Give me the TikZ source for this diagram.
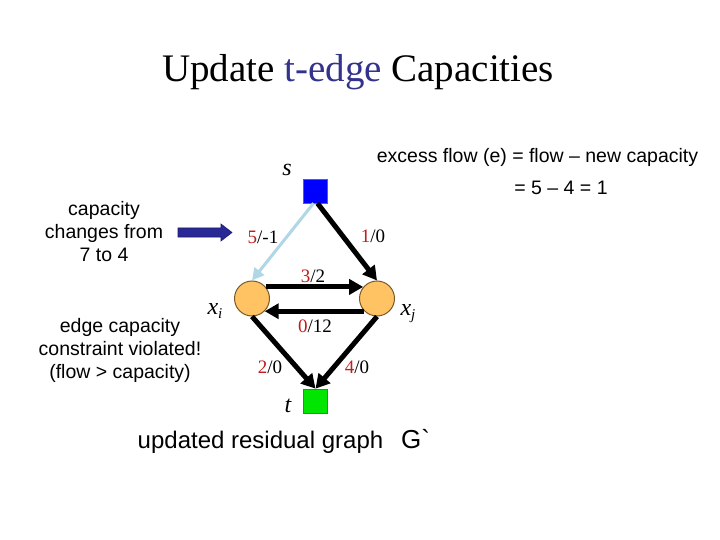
\documentclass[tikz,border=0pt]{standalone}
\usepackage{fontspec}
\setmainfont{Liberation Serif}
\newfontfamily\arialf[Ligatures=TeX]{Liberation Sans}
\newfontfamily\arialplain{Liberation Sans}
\usetikzlibrary{arrows.meta}
\definecolor{tedge}{RGB}{51,51,140}
\definecolor{numred}{RGB}{190,30,30}
\definecolor{nodeorange}{RGB}{255,195,100}
\definecolor{nodeedge}{RGB}{120,90,40}
\definecolor{navyarrow}{RGB}{40,40,150}
\definecolor{lblue}{RGB}{175,215,230}
\definecolor{sblue}{RGB}{0,0,255}
\definecolor{tgreen}{RGB}{0,230,0}
\newcommand{\rn}[2]{\textcolor{numred}{#1}/#2}
\newcommand{\vsub}[2]{#1\raisebox{-0.35ex}{\fontsize{15}{17}\selectfont #2}}
\begin{document}
\begin{tikzpicture}[x=1pt,y=-1pt,
  sq/.style={draw=black!60, line width=0.6pt, minimum size=24pt, inner sep=0pt},
  vert/.style={circle, draw=nodeedge, line width=1pt, fill=nodeorange, minimum size=35pt, inner sep=0pt},
  bk/.style={line width=5pt, -{Triangle[length=14pt,width=15pt]}},
  lb/.style={line width=3pt, lblue, -{Triangle[length=12pt,width=12pt]}},
  elab/.style={font=\fontsize{19}{22}\selectfont, inner sep=0pt},
  vlab/.style={font=\fontsize{24}{28}\selectfont\itshape, inner sep=0pt},
  note/.style={font=\arialf\fontsize{19.5}{23}\selectfont, align=center, inner sep=0pt}
]
\useasboundingbox (0,0) rectangle (720,540);
\fill[white] (0,0) rectangle (720,540);

% title
\node[anchor=base, inner sep=0pt, font=\fontsize{39}{44}\selectfont] (title) at (358,82)
  {Update \textcolor{tedge}{t-edge} Capacities};

% graph nodes
\node[sq, fill=sblue] (s) at (315.5,191) {};
\node[sq, fill=tgreen] (t) at (315.5,401) {};
\node[vert] (xi) at (252,298.5) {};
\node[vert] (xj) at (377,298.5) {};

% node labels
\node[vlab] (ls) at (287,170) {s};
\node[vlab] (lt) at (288,406) {t};
\node[vlab] (lxi) at (215,311) {\vsub{x}{i}};
\node[vlab] (lxj) at (408,314) {\vsub{x}{j}};

% edges
\draw[lb] ([xshift=-2pt]s.south) -- (xi.north);
\draw[bk] ([xshift=2pt]s.south) -- (xj.north);
\draw[bk] (xi.40) -- (xj.140);
\draw[bk] (xj.-135) -- (xi.-45);
\draw[bk] (xi.south) -- (t.north);
\draw[bk] (xj.south) -- (t.north);

% edge labels
\node[elab] (e1) at (263,237) {\rn{5}{-1}};
\node[elab] (e2) at (373,236) {\rn{1}{0}};
\node[elab] (e3) at (313,276) {\rn{3}{2}};
\node[elab] (e4) at (315,326) {\rn{0}{12}};
\node[elab] (e5) at (270,367) {\rn{2}{0}};
\node[elab] (e6) at (357,367) {\rn{4}{0}};

% notes
\node[note] (n1) at (104,232) {capacity\\changes from\\7 to 4};
\node[note] (n2) at (120,350) {edge capacity\\constraint violated!\\(flow {>} capacity)};
\node[note] (n3) at (537.5,157) {excess flow (e) = flow \textendash{} new capacity};
\node[note] (n4) at (561,188) {= 5 \textendash{} 4 = 1};

% block arrow
\filldraw[fill=navyarrow, draw=navyarrow!70!black, line width=0.6pt]
  (178,228) -- (221,228) -- (221,224) -- (232,232.5) -- (221,241) -- (221,237) -- (178,237) -- cycle;

% caption
\node[anchor=base, inner sep=0pt, font=\arialf\fontsize{24}{28}\selectfont] (cap) at (260.5,448) {updated residual graph};
\node[anchor=base west, inner sep=0pt, font=\arialplain\fontsize{26}{30}\selectfont] (g) at (401,448) {G`};
\end{tikzpicture}
\end{document}
